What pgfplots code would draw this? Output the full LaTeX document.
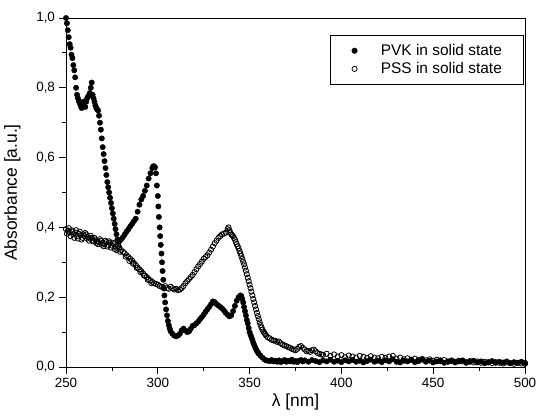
\documentclass[border=0pt]{standalone}
\usepackage{pgfplots}
\pgfplotsset{compat=1.18}
\usepackage{pgfplotstable}
\usepackage{fontspec}
\setmainfont{Liberation Sans}

\pgfplotstableread{
x y
250 1.000
250.5 0.985
251 0.965
251.5 0.945
252 0.925
252.5 0.915
253 0.895
253.5 0.885
254 0.865
254.5 0.850
255 0.830
255.5 0.800
256 0.780
256.5 0.770
257 0.762
257.5 0.755
258 0.748
258.5 0.742
259 0.755
259.5 0.760
260 0.748
260.5 0.745
261 0.760
261.5 0.770
262 0.775
262.5 0.778
263 0.785
263.5 0.800
264 0.815
264.5 0.780
265 0.770
265.5 0.760
266 0.750
266.5 0.742
267 0.738
267.5 0.735
268 0.720
268.5 0.700
269 0.680
269.5 0.655
270 0.630
270.5 0.610
271 0.590
271.5 0.570
272 0.550
272.5 0.530
273 0.515
273.5 0.500
274 0.485
274.5 0.470
275 0.455
275.5 0.440
276 0.425
276.5 0.410
277 0.395
277.5 0.380
278 0.365
278.5 0.358
279 0.360
280 0.365
281 0.372
282 0.380
283 0.388
284 0.395
285 0.403
286 0.410
287 0.418
288 0.425
289 0.445
290 0.465
291 0.480
292 0.490
293 0.505
294 0.520
295 0.540
296 0.555
297 0.570
297.5 0.575
298 0.575
298.5 0.572
299 0.555
299.5 0.520
300 0.490
300.3 0.460
300.6 0.430
301 0.400
301.3 0.375
301.6 0.350
302 0.325
302.3 0.300
302.6 0.275
303 0.250
303.3 0.225
303.6 0.205
304 0.185
304.5 0.165
305 0.148
305.5 0.132
306 0.120
306.5 0.110
307 0.102
308 0.095
309 0.090
310 0.088
311 0.090
312 0.095
313 0.105
314 0.110
315 0.105
316 0.100
317 0.102
318 0.110
319 0.118
320 0.120
321 0.125
322 0.130
323 0.137
324 0.143
325 0.150
326 0.158
327 0.165
328 0.172
329 0.180
330 0.188
331 0.186
332 0.180
333 0.176
334 0.172
335 0.168
336 0.162
337 0.155
338 0.150
339 0.145
340 0.148
341 0.160
342 0.175
343 0.190
344 0.200
345 0.205
345.5 0.203
346 0.195
346.5 0.185
347 0.172
347.5 0.160
348 0.148
348.5 0.135
349 0.125
349.5 0.112
350 0.100
350.5 0.092
351 0.085
351.5 0.078
352 0.070
352.5 0.063
353 0.057
353.5 0.051
354 0.046
354.5 0.042
355 0.038
356 0.032
357 0.027
358 0.022
359 0.019
360 0.018
361 0.017
362 0.020
363 0.016
364 0.018
365 0.015
366 0.019
367 0.014
368 0.017
369 0.020
370 0.015
371 0.018
372 0.016
373 0.021
374 0.015
375 0.017
376 0.014
377 0.018
378 0.020
379 0.016
380 0.019
382 0.015
384 0.020
386 0.017
388 0.014
390 0.019
392 0.016
394 0.021
396 0.015
398 0.018
400 0.014
402 0.019
404 0.016
406 0.020
408 0.015
410 0.018
412 0.013
414 0.017
416 0.021
418 0.015
420 0.018
422 0.014
424 0.019
426 0.016
428 0.022
430 0.015
432 0.013
434 0.018
436 0.016
438 0.020
440 0.014
442 0.017
444 0.021
446 0.015
448 0.018
450 0.013
452 0.016
454 0.019
456 0.012
458 0.015
460 0.017
462 0.013
464 0.016
466 0.019
468 0.012
470 0.015
472 0.018
474 0.013
476 0.016
478 0.011
480 0.014
482 0.017
484 0.012
486 0.015
488 0.013
490 0.016
492 0.011
494 0.014
496 0.012
498 0.015
500 0.012
}\pvk

\pgfplotstableread{
x y
250 0.395
250.5 0.382
251 0.390
251.5 0.398
252 0.385
252.5 0.375
253 0.392
253.5 0.388
254 0.380
254.5 0.370
255 0.385
255.5 0.392
256 0.375
256.5 0.368
257 0.382
257.5 0.388
258 0.378
258.5 0.365
259 0.370
259.5 0.380
260 0.375
260.5 0.384
261 0.380
261.5 0.368
262 0.372
262.5 0.362
263 0.368
263.5 0.376
264 0.370
264.5 0.360
265 0.362
265.5 0.370
266 0.365
266.5 0.355
267 0.360
267.5 0.352
268 0.358
268.5 0.366
269 0.362
269.5 0.350
270 0.355
270.5 0.346
271 0.352
271.5 0.362
272 0.358
272.5 0.345
273 0.350
273.5 0.360
274 0.355
274.5 0.342
275 0.348
275.5 0.356
276 0.352
276.5 0.338
277 0.345
277.5 0.335
278 0.340
278.5 0.348
279 0.342
279.5 0.330
280 0.335
281 0.330
282 0.326
282.5 0.316
283 0.320
284 0.315
284.5 0.304
285 0.310
286 0.305
286.5 0.296
287 0.298
288 0.292
288.5 0.284
289 0.285
290 0.280
290.5 0.272
291 0.275
292 0.268
292.5 0.262
293 0.262
294 0.258
294.5 0.250
295 0.252
296 0.248
296.5 0.240
297 0.244
298 0.240
299 0.238
300 0.236
301 0.232
302 0.230
303 0.228
304 0.232
305 0.226
306 0.224
307 0.230
308 0.226
309 0.222
310 0.224
311 0.220
312 0.222
313 0.226
314 0.232
315 0.240
316 0.246
317 0.252
318 0.258
319 0.264
320 0.272
321 0.280
322 0.288
323 0.295
324 0.302
325 0.310
326 0.315
327 0.320
328 0.328
329 0.336
330 0.345
331 0.355
332 0.362
333 0.370
334 0.375
335 0.380
336 0.382
337 0.385
338 0.395
338.5 0.400
339 0.392
339.5 0.385
340 0.380
340.5 0.378
341 0.375
341.5 0.370
342 0.365
342.5 0.358
343 0.352
343.5 0.346
344 0.340
344.5 0.332
345 0.325
345.5 0.318
346 0.310
346.5 0.302
347 0.294
347.5 0.285
348 0.276
348.5 0.266
349 0.256
349.5 0.246
350 0.236
350.5 0.226
351 0.216
351.5 0.205
352 0.195
352.5 0.185
353 0.175
353.5 0.165
354 0.155
354.5 0.146
355 0.137
355.5 0.128
356 0.120
356.5 0.113
357 0.107
357.5 0.102
358 0.098
358.5 0.094
359 0.090
360 0.085
361 0.082
362 0.078
363 0.076
364 0.075
365 0.072
366 0.073
367 0.068
368 0.064
369 0.062
370 0.060
371 0.057
372 0.055
373 0.052
374 0.050
375 0.048
376 0.052
377 0.058
378 0.060
379 0.055
380 0.050
381 0.045
382 0.046
383 0.043
384 0.048
385 0.050
386 0.045
387 0.040
388 0.038
389 0.036
390 0.035
392 0.038
394 0.032
396 0.036
398 0.030
400 0.034
402 0.028
404 0.033
406 0.030
408 0.027
410 0.032
412 0.029
414 0.026
416 0.031
418 0.027
420 0.025
422 0.029
424 0.026
426 0.030
428 0.032
430 0.024
432 0.027
434 0.022
436 0.025
438 0.021
440 0.024
442 0.020
444 0.023
446 0.019
448 0.022
450 0.018
452 0.021
454 0.017
456 0.020
458 0.016
460 0.019
462 0.015
464 0.018
466 0.016
468 0.014
470 0.017
472 0.013
474 0.016
476 0.012
478 0.015
480 0.013
482 0.011
484 0.014
486 0.012
488 0.010
490 0.013
492 0.011
494 0.009
496 0.012
498 0.010
500 0.009
}\pss

\begin{document}
\begin{tikzpicture}
\useasboundingbox (-66bp,-52bp) rectangle (471bp,367bp);
\begin{axis}[
  at={(0,0)}, anchor=south west,
  scale only axis,
  width=459bp, height=349bp,
  xmin=250, xmax=500, ymin=0, ymax=1,
  xtick={250,300,...,500},
  ytick={0,0.2,...,1.0},
  minor x tick num=1, minor y tick num=1,
  tick align=outside,
  xtick pos=bottom, ytick pos=left,
  major tick length=6.5bp, minor tick length=4bp,
  axis line style={line width=0.8pt},
  tick style={line width=0.8pt, black},
  /pgf/number format/assume math mode=true,
  /pgf/number format/use comma,
  yticklabel style={/pgf/number format/fixed, /pgf/number format/fixed zerofill, /pgf/number format/precision=1, xshift=-1bp},
  xticklabel style={/pgf/number format/1000 sep={}, yshift=-1.5bp},
  ticklabel style={font=\fontsize{13.5}{15}\selectfont},
  label style={font=\fontsize{17.5}{20}\selectfont},
  xlabel={λ [nm]},
  ylabel={Absorbance [a.u.]},
  xlabel style={at={(axis description cs:0.5,-0.100)}, anchor=center},
  ylabel style={at={(axis description cs:-0.117,0.5)}, anchor=center},
  legend style={at={(0.996,0.951)}, anchor=north east, draw=black, line width=0.6pt,
    font=\fontsize{15.5}{18}\selectfont, inner xsep=10bp, inner ysep=7bp, row sep=1.5bp,
    /tikz/every odd column/.style={column sep=10bp}},
  legend cell align=left,
  legend image code/.code={\path (0bp,0bp) (28bp,0bp); \draw[#1] plot coordinates {(14bp,0bp)};},
]
\addplot[only marks, mark=*, mark size=2.7bp, black] table {\pvk};
\addlegendentry{PVK in solid state\kern9bp}
\addplot[only marks, mark=o, mark size=2.6bp, black, mark options={fill=white, line width=0.8pt}] table {\pss};
\addlegendentry{PSS in solid state\kern9bp}
\end{axis}
\end{tikzpicture}
\end{document}
